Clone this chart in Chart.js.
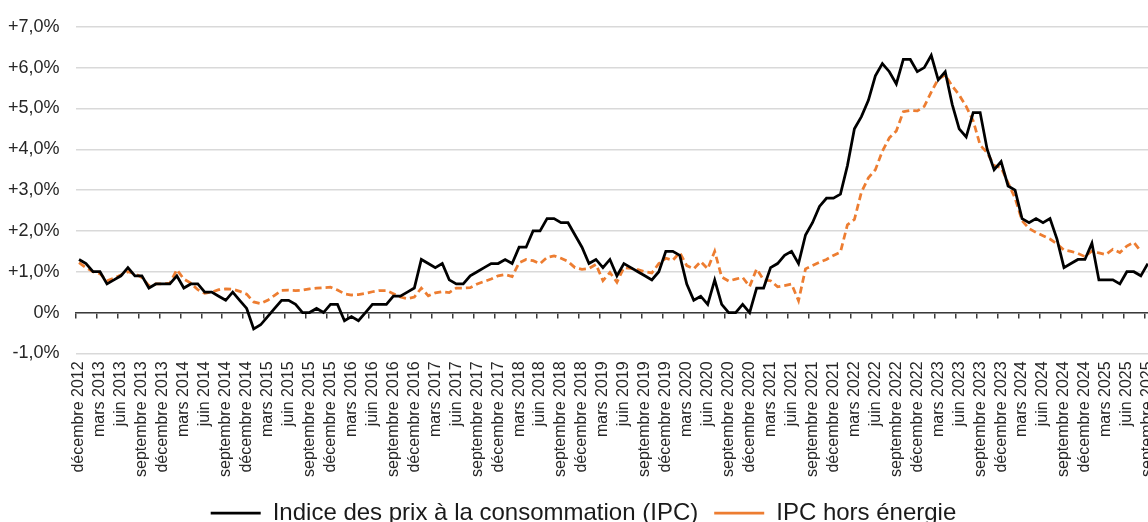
<!DOCTYPE html>
<html lang="fr">
<head>
<meta charset="utf-8">
<title>IPC et IPC hors énergie</title>
<script src="https://cdn.jsdelivr.net/npm/chart.js@4.4.1/dist/chart.umd.min.js"></script>
<style>
  html, body { margin: 0; padding: 0; background: #fff; overflow: hidden; }
  .chart-container { position: relative; width: 1175px; height: 540px; }
</style>
</head>
<body>
<div class="chart-container"><canvas id="ipcChart"></canvas></div>
<script>
// mois de décembre 2012 à septembre 2025
const moisNoms = ['janvier', 'février', 'mars', 'avril', 'mai', 'juin', 'juillet', 'août',
  'septembre', 'octobre', 'novembre', 'décembre'];
const nbMois = 154;
const categories = [];
for (let i = 0; i < nbMois; i++) {
  categories.push(moisNoms[(11 + i) % 12] + ' ' + (2012 + Math.floor((11 + i) / 12)));
}

// glissement annuel, en %
const ipc = [
  1.3,
  1.2, 1.0, 1.0, 0.7, 0.8, 0.9, 1.1, 0.9, 0.9, 0.6, 0.7, 0.7,
  0.7, 0.9, 0.6, 0.7, 0.7, 0.5, 0.5, 0.4, 0.3, 0.5, 0.3, 0.1,
  -0.4, -0.3, -0.1, 0.1, 0.3, 0.3, 0.2, 0.0, 0.0, 0.1, 0.0, 0.2,
  0.2, -0.2, -0.1, -0.2, 0.0, 0.2, 0.2, 0.2, 0.4, 0.4, 0.5, 0.6,
  1.3, 1.2, 1.1, 1.2, 0.8, 0.7, 0.7, 0.9, 1.0, 1.1, 1.2, 1.2,
  1.3, 1.2, 1.6, 1.6, 2.0, 2.0, 2.3, 2.3, 2.2, 2.2, 1.9, 1.6,
  1.2, 1.3, 1.1, 1.3, 0.9, 1.2, 1.1, 1.0, 0.9, 0.8, 1.0, 1.5,
  1.5, 1.4, 0.7, 0.3, 0.4, 0.2, 0.8, 0.2, 0.0, 0.0, 0.2, 0.0,
  0.6, 0.6, 1.1, 1.2, 1.4, 1.5, 1.2, 1.9, 2.2, 2.6, 2.8, 2.8,
  2.9, 3.6, 4.5, 4.8, 5.2, 5.8, 6.1, 5.9, 5.6, 6.2, 6.2, 5.9,
  6.0, 6.3, 5.7, 5.9, 5.1, 4.5, 4.3, 4.9, 4.9, 4.0, 3.5, 3.7,
  3.1, 3.0, 2.3, 2.2, 2.3, 2.2, 2.3, 1.8, 1.1, 1.2, 1.3, 1.3,
  1.7, 0.8, 0.8, 0.8, 0.7, 1.0, 1.0, 0.9, 1.2
];

const ipcHorsEnergie = [
  1.22,
  1.1, 1.0, 0.95, 0.78, 0.84, 0.92, 1.0, 0.95, 0.86, 0.66, 0.7, 0.7,
  0.72, 1.05, 0.82, 0.72, 0.56, 0.47, 0.5, 0.56, 0.58, 0.57, 0.52, 0.45,
  0.26, 0.22, 0.3, 0.42, 0.54, 0.55, 0.54, 0.55, 0.58, 0.6, 0.61, 0.62,
  0.55, 0.46, 0.43, 0.44, 0.47, 0.51, 0.54, 0.54, 0.46, 0.38, 0.34, 0.38,
  0.6, 0.41, 0.48, 0.51, 0.49, 0.6, 0.6, 0.61, 0.7, 0.76, 0.82, 0.9,
  0.93, 0.88, 1.22, 1.3, 1.27, 1.2, 1.35, 1.39, 1.33, 1.25, 1.1, 1.06,
  1.08, 1.18, 0.78, 0.98, 0.74, 1.1, 1.08, 1.05, 1.0, 0.97, 1.2, 1.33,
  1.28, 1.47, 1.15, 1.07, 1.25, 1.07, 1.5, 0.87, 0.77, 0.82, 0.86, 0.64,
  1.07, 0.8, 0.78, 0.63, 0.66, 0.7, 0.29, 1.07, 1.15, 1.23, 1.3, 1.4,
  1.48, 2.15, 2.28, 2.95, 3.3, 3.5, 3.95, 4.28, 4.45, 4.92, 4.95, 4.94,
  5.05, 5.4, 5.72, 5.82, 5.55, 5.33, 5.05, 4.7, 4.1, 3.92, 3.6, 3.55,
  3.18, 2.8, 2.25, 2.06, 1.96, 1.88, 1.8, 1.68, 1.53, 1.5, 1.45, 1.37,
  1.51, 1.46, 1.42, 1.55, 1.47, 1.63, 1.72, 1.5
];

const yMin = -1;
const yMax = 7;

function formatPct(v) {
  if (v === 0) return '0%';
  return (v > 0 ? '+' : '') + v.toFixed(1).replace('.', ',') + '%';
}

Chart.defaults.font.family = "'Liberation Sans', Arial, sans-serif";
Chart.defaults.color = '#262626';

const ctx = document.getElementById('ipcChart').getContext('2d');
new Chart(ctx, {
  type: 'line',
  data: {
    labels: categories,
    datasets: [
      {
        label: 'Indice des prix à la consommation (IPC)',
        data: ipc,
        borderColor: '#000000',
        backgroundColor: '#000000',
        borderWidth: 2.75,
        pointRadius: 0,
        tension: 0
      },
      {
        label: 'IPC hors énergie',
        data: ipcHorsEnergie,
        borderColor: '#ED7D31',
        backgroundColor: '#ED7D31',
        borderWidth: 2.75,
        borderDash: [7, 4],
        pointRadius: 0,
        tension: 0
      }
    ]
  },
  options: {
    responsive: true,
    maintainAspectRatio: false,
    animation: false,
    layout: { padding: { top: 25, left: -8, right: 0, bottom: 5 } },
    plugins: {
      legend: {
        position: 'bottom',
        labels: {
          usePointStyle: true,
          pointStyle: 'line',
          pointStyleWidth: 50,
          padding: 16,
          color: '#1a1a1a',
          font: { size: 24 }
        }
      },
      tooltip: { enabled: false }
    },
    scales: {
      x: {
        type: 'category',
        offset: true,
        grid: { display: false, drawTicks: false },
        border: { display: false },
        ticks: {
          autoSkip: false,
          maxRotation: 90,
          minRotation: 90,
          padding: 8,
          font: { size: 16 },
          callback: function(value, index) {
            return index % 3 === 0 ? this.getLabelForValue(value) : '';
          }
        }
      },
      // axe horizontal au niveau de 0 %, avec graduations trimestrielles
      x0: {
        type: 'category',
        position: { y: 0 },
        offset: true,
        grid: {
          offset: true,
          drawOnChartArea: false,
          drawTicks: true,
          tickLength: 5,
          lineWidth: 1.5,
          color: c => (c.index % 3 === 0 ? '#3a3a3a' : 'rgba(0,0,0,0)')
        },
        border: { display: true, color: '#3a3a3a', width: 1.5 },
        ticks: { display: false }
      },
      y: {
        min: yMin,
        max: yMax,
        grid: { color: '#d9d9d9', lineWidth: 1.5, drawTicks: false },
        border: { display: false },
        ticks: {
          stepSize: 1,
          padding: 16,
          font: { size: 18 },
          callback: v => formatPct(v)
        }
      }
    }
  }
});
</script>
</body>
</html>
